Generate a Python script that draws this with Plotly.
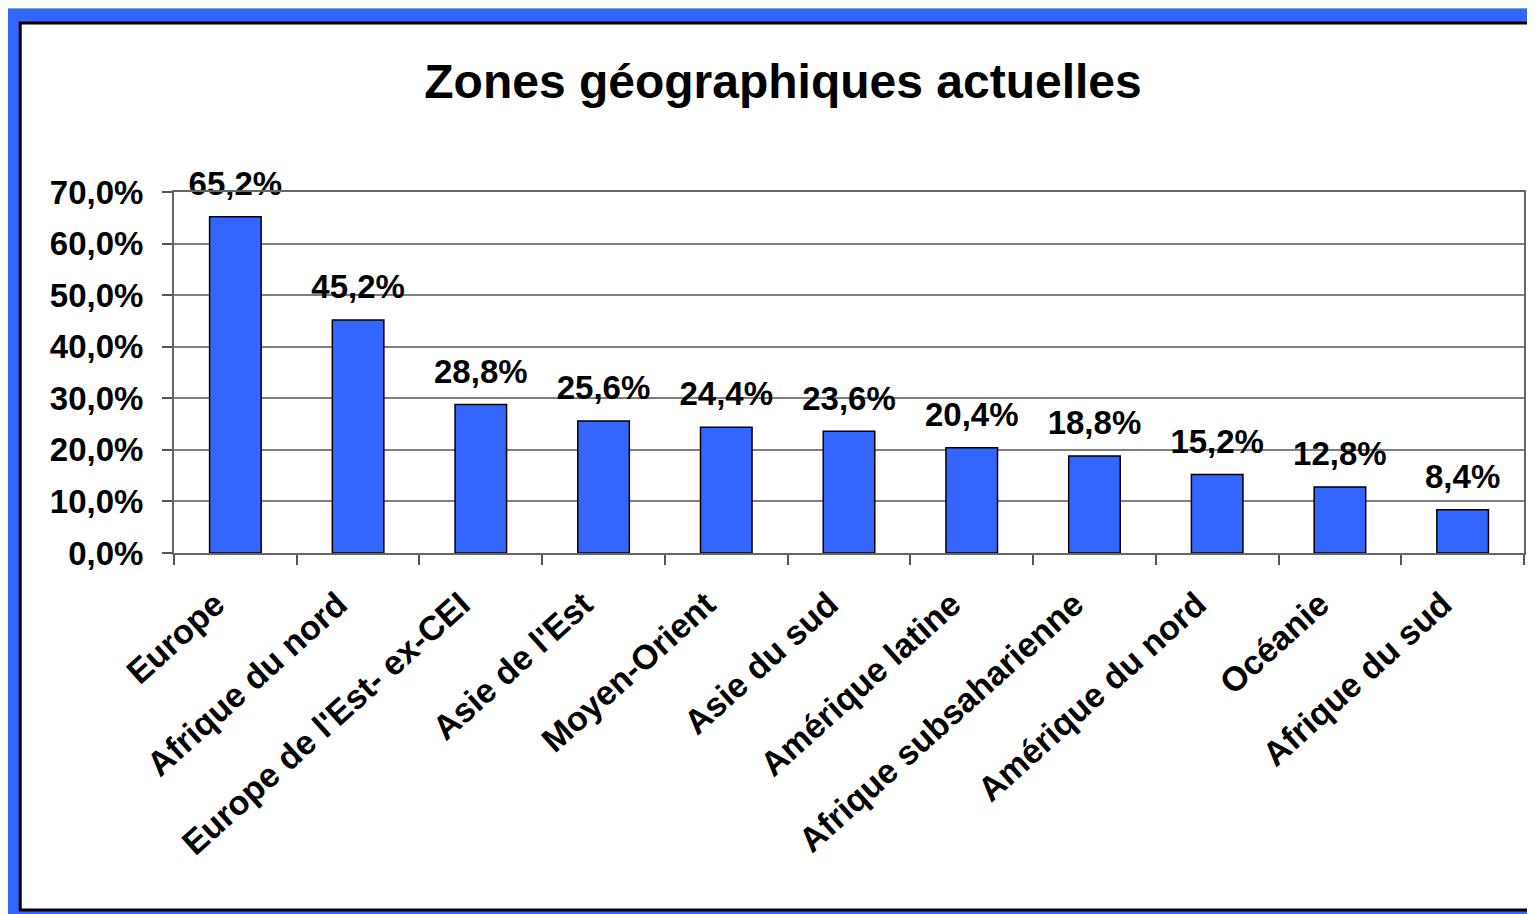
import plotly.graph_objects as go

# data
zones = [
    "Europe", "Afrique du nord", "Europe de l'Est- ex-CEI", "Asie de l'Est",
    "Moyen-Orient", "Asie du sud", "Amérique latine", "Afrique subsaharienne",
    "Amérique du nord", "Océanie", "Afrique du sud",
]
shares = [65.2, 45.2, 28.8, 25.6, 24.4, 23.6, 20.4, 18.8, 15.2, 12.8, 8.4]
y_ticks = [0, 10, 20, 30, 40, 50, 60, 70]
y_labels = [f"{v:.1f}%".replace(".", ",") for v in y_ticks]

# the page body has an 8px margin, so size and place everything 8px in
OFF = 8
W, H = 1535 - OFF, 914 - OFF
PL, PR, PT, PB = 174 - OFF, 1526 - OFF, 192 - OFF, 553 - OFF


def px(x):
    return (x - OFF - PL) / (PR - PL)


def py(y):
    return (PB - (y - OFF)) / (PB - PT)


FONT = "Liberation Sans, Arial, sans-serif"

fig = go.Figure()
fig.add_trace(go.Bar(
    x=zones, y=shares,
    marker=dict(color="#3366FF", line=dict(color="#000000", width=1.5)),
))
# value labels; the hidden marker sets the gap above each bar
fig.add_trace(go.Scatter(
    x=zones, y=shares, mode="markers+text",
    marker=dict(size=20, opacity=0),
    text=[f"{v:.1f}%".replace(".", ",") for v in shares],
    textposition="top center",
    textfont=dict(family=FONT, size=33, color="#000000", weight="bold"),
    cliponaxis=False, hoverinfo="skip",
))

# slide frame: blue band, then white card with black edge
fig.add_shape(type="rect", xref="paper", yref="paper",
              x0=px(6), x1=px(1560), y0=py(9), y1=py(930),
              fillcolor="#3366FF", line_width=0, layer="below")
fig.add_shape(type="rect", xref="paper", yref="paper",
              x0=px(20), x1=px(1560), y0=py(23), y1=py(910),
              fillcolor="#FFFFFF", line=dict(color="#000000", width=3), layer="below")

fig.update_layout(
    width=W, height=H,
    margin=dict(l=PL, r=W - PR, t=PT, b=H - PB, pad=0),
    paper_bgcolor="#7AA7CC",
    plot_bgcolor="#FFFFFF",
    bargap=0.58,
    showlegend=False,
    title=dict(
        text="Zones géographiques actuelles",
        font=dict(family=FONT, size=48, color="#000000", weight="bold"),
        x=(783 - OFF) / W, xref="container", xanchor="center",
        y=1 - (81 - OFF) / H, yref="container", yanchor="middle",
    ),
    xaxis=dict(
        range=[-0.5, len(zones) - 0.5],
        tickangle=-42, tickson="boundaries", ticks="outside", ticklen=10,
        tickcolor="#555555", tickwidth=1.5,
        showline=True, linecolor="#666666", linewidth=2, mirror=True,
        showgrid=False, ticklabelshift=-20, ticklabelstandoff=16,
        tickfont=dict(family=FONT, size=34, color="#000000", weight="bold"),
    ),
    yaxis=dict(
        range=[0, 70], tickvals=y_ticks, ticktext=y_labels,
        ticks="outside", ticklen=10, tickcolor="#555555", tickwidth=1.5,
        showline=True, linecolor="#666666", linewidth=2, mirror=True,
        showgrid=True, gridcolor="#808080", gridwidth=1.5,
        zeroline=False, ticklabelstandoff=12,
        tickfont=dict(family=FONT, size=33, color="#000000", weight="bold"),
    ),
)

fig.write_html("out.html")
